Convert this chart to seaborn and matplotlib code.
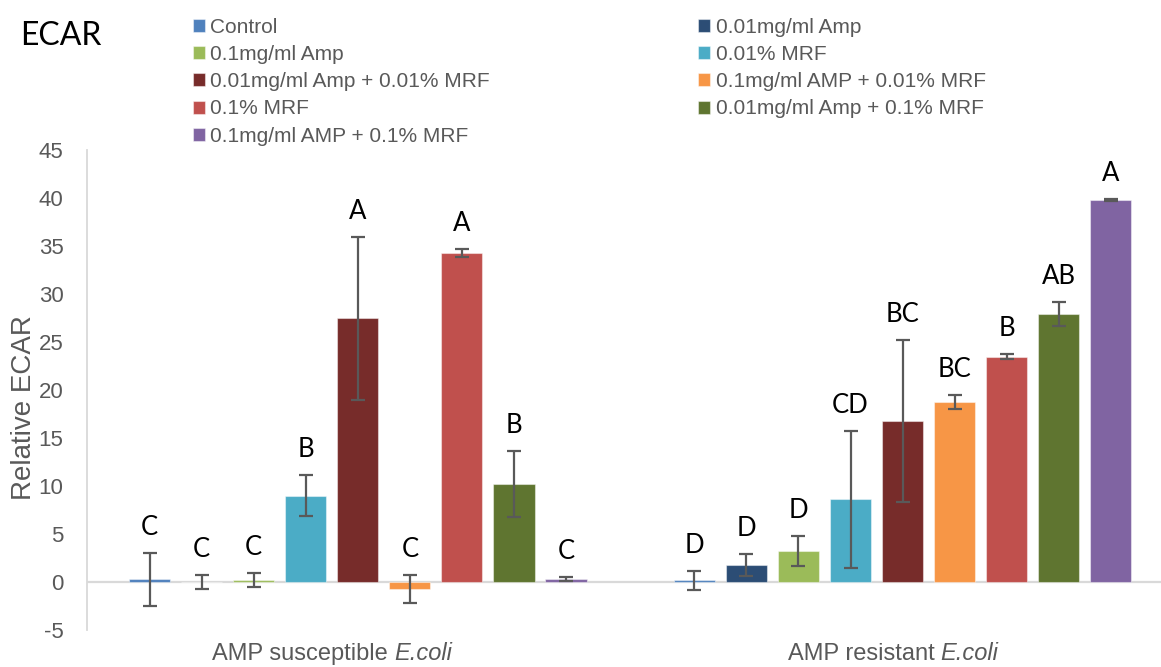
import numpy as np
import pandas as pd
import matplotlib
matplotlib.use("Agg")
import matplotlib.pyplot as plt
import seaborn as sns
from matplotlib.transforms import ScaledTranslation

# ---------------- data ----------------
groups = ["AMP susceptible", "AMP resistant"]
species = "E.coli"
treatments = [
    "Control",
    "0.01mg/ml Amp",
    "0.1mg/ml Amp",
    "0.01% MRF",
    "0.01mg/ml Amp + 0.01% MRF",
    "0.1mg/ml AMP + 0.01% MRF",
    "0.1% MRF",
    "0.01mg/ml Amp + 0.1% MRF",
    "0.1mg/ml AMP + 0.1% MRF",
]
susceptible_vals = [0.28, 0.0, 0.2, 9.0, 27.45, -0.72, 34.3, 10.2, 0.27]
susceptible_err = [2.78, 0.7, 0.7, 2.1, 8.5, 1.42, 0.4, 3.4, 0.2]
resistant_vals = [0.18, 1.81, 3.2, 8.6, 16.8, 18.75, 23.48, 27.88, 39.8]
resistant_err = [0.97, 1.15, 1.55, 7.15, 8.45, 0.7, 0.27, 1.25, 0.1]
susceptible_letters = ["C", "C", "C", "B", "A", "C", "A", "B", "C"]
resistant_letters = ["D", "D", "D", "CD", "BC", "BC", "B", "AB", "A"]

colors = ["#4F81BD", "#2C4D75", "#9BBB59", "#4BACC6", "#772C2A",
          "#F79646", "#C0504D", "#5F7530", "#8064A2"]

# ---------------- style ----------------
sns.set_style("white")
plt.rcParams["font.family"] = ["Liberation Sans", "DejaVu Sans"]
plt.rcParams["axes.unicode_minus"] = False
GRAY = "#595959"
LINE = "#D9D9D9"

df = pd.DataFrame({
    "group": [g for g in groups for _ in treatments],
    "treatment": treatments * len(groups),
    "value": susceptible_vals + resistant_vals,
})
vals = [susceptible_vals, resistant_vals]
errs = [susceptible_err, resistant_err]
letters = [susceptible_letters, resistant_letters]

W, H = 1161, 667
fig = plt.figure(figsize=(W / 100, H / 100), dpi=100)
ax = fig.add_axes([87 / W, 37 / H, 1088 / W, 480 / H])

sns.barplot(data=df, x="group", y="value", hue="treatment",
            order=groups, hue_order=treatments, palette=colors,
            width=0.86, gap=0.21, errorbar=None,
            edgecolor=(1, 1, 1, 0.45), linewidth=0.8, saturation=1,
            ax=ax, zorder=2)

bar_containers = list(ax.containers)
for ti, cont in enumerate(bar_containers):
    for gi, bar in enumerate(cont):
        x = bar.get_x() + bar.get_width() / 2
        v = vals[gi][ti]
        e = errs[gi][ti]
        ax.errorbar(x, v, yerr=e, fmt="none", ecolor=GRAY, elinewidth=1.6,
                    capsize=5, capthick=1.6, zorder=3)
        ax.annotate(letters[gi][ti], (x, v + e), xytext=(0, 13),
                    textcoords="offset points", ha="center", va="baseline",
                    fontsize=18.5, color="black", family=["Lato", "DejaVu Sans"])

# legend
leg = ax.get_legend()
handles = leg.legend_handles
labels = [t.get_text() for t in leg.get_texts()]
leg.remove()
order = [0, 2, 4, 6, 8, 1, 3, 5, 7]
fig.legend([handles[i] for i in order], [labels[i] for i in order],
           loc="upper left", bbox_to_anchor=(193 / W, 1 - 18 / H),
           ncol=2, frameon=False, fontsize=15, labelcolor=GRAY,
           handlelength=0.58, handleheight=0.58, handletextpad=0.25,
           columnspacing=10.0, labelspacing=0.39, borderpad=0, borderaxespad=0)

# axes
ax.set_xlim(-0.497, 1.5)
ax.set_ylim(-5, 45)
ax.set_yticks(range(-5, 46, 5))
ax.set_xticks([0, 1])
ax.set_xticklabels(groups, ha="left")
ax.set_xlabel("")
ax.tick_params(axis="y", length=0, pad=17, labelsize=16, labelcolor=GRAY)
ax.tick_params(axis="x", length=0, pad=9.5, labelsize=17, labelcolor=GRAY)
for lab, dx in zip(ax.get_xticklabels(), [-146, -115]):
    lab.set_transform(lab.get_transform() + ScaledTranslation(dx / 100, 0, fig.dpi_scale_trans))
    ax.annotate(species, xy=(1, 0), xycoords=lab, xytext=(4.5, 0),
                textcoords="offset points", ha="left", va="bottom",
                fontsize=17, color=GRAY, style="italic")
for s in ["top", "right", "bottom"]:
    ax.spines[s].set_visible(False)
ax.spines["left"].set_color(LINE)
ax.spines["left"].set_linewidth(1.3)
ax.axhline(0, color=LINE, lw=1.6, zorder=1)

ax.set_ylabel("Relative ECAR", fontsize=20, color=GRAY)
ax.yaxis.set_label_coords(37 / W, 1 - 408 / H, transform=fig.transFigure)

fig.text(20 / W, 1 - 45 / H, "ECAR", fontsize=23, color="black",
         family=["Lato", "DejaVu Sans"], va="baseline", ha="left")

fig.savefig("out.png", dpi=100)
